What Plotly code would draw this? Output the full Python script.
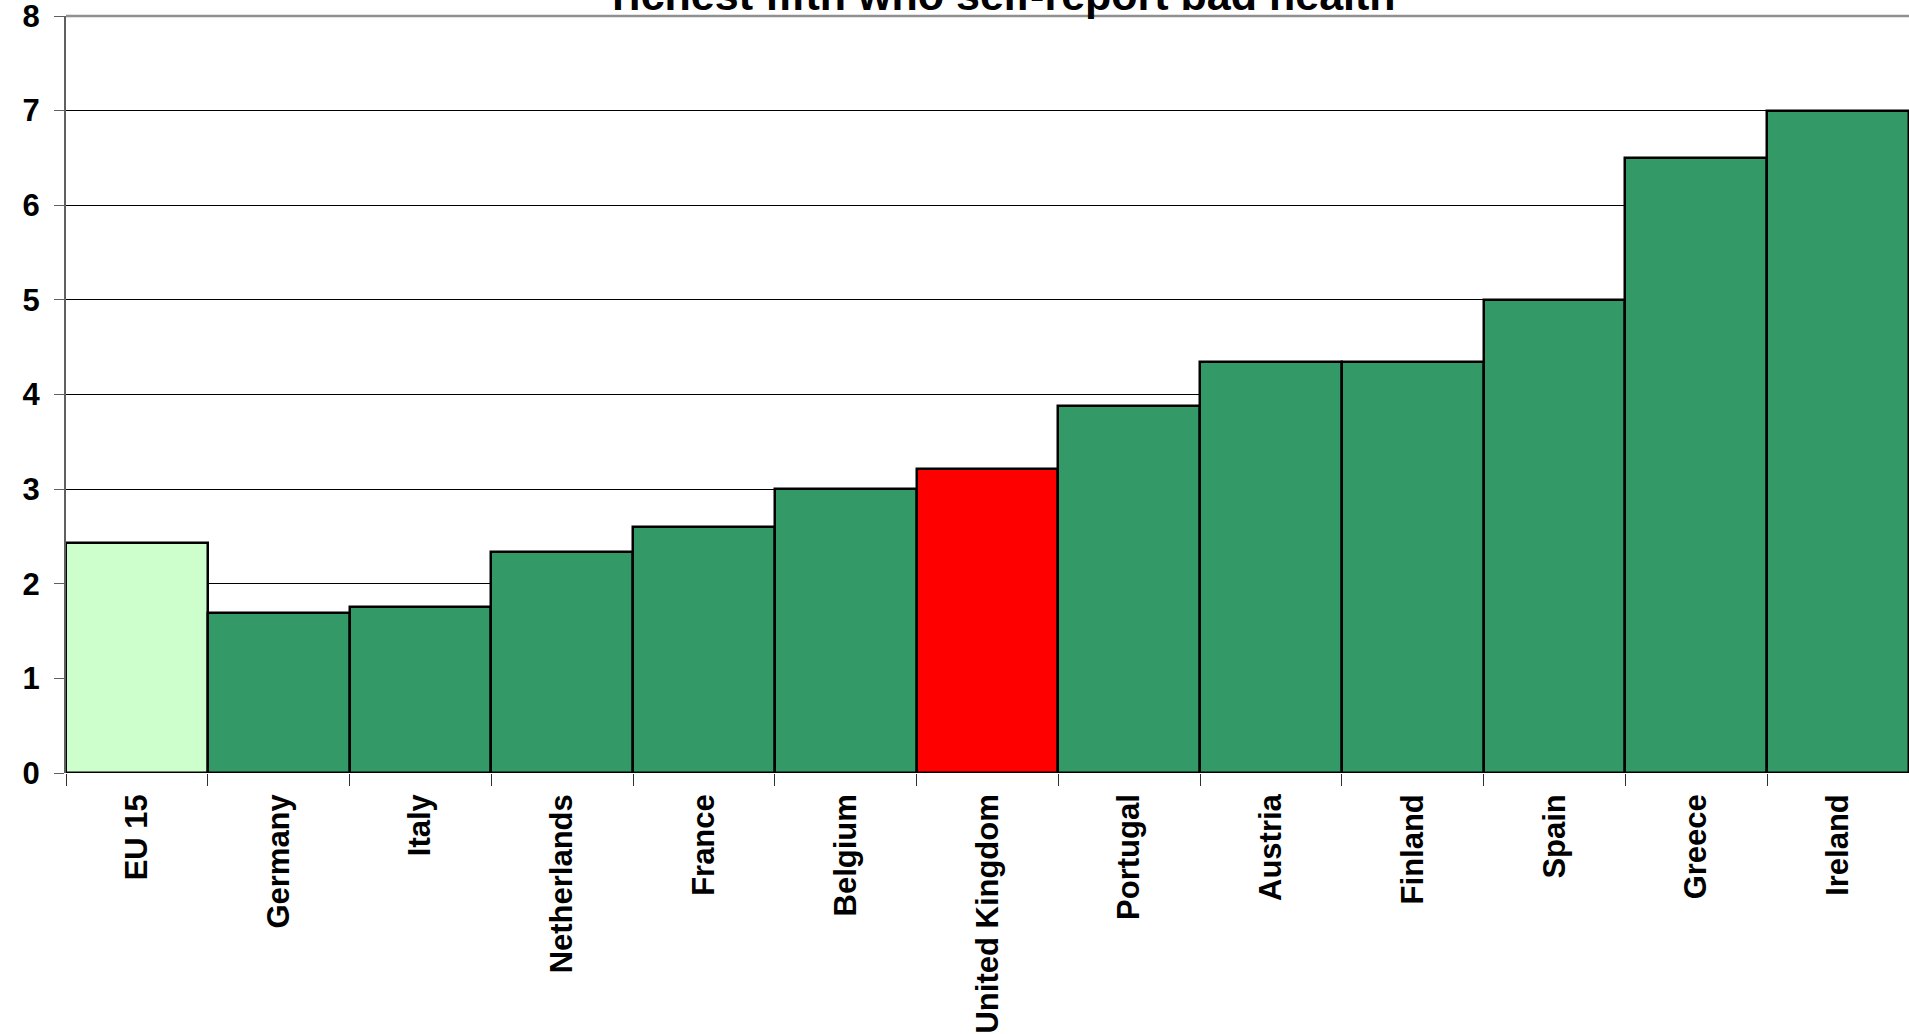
import plotly.graph_objects as go

categories = ["EU 15", "Germany", "Italy", "Netherlands", "France", "Belgium",
              "United Kingdom", "Portugal", "Austria", "Finland", "Spain", "Greece", "Ireland"]
values = [2.43, 1.69, 1.75, 2.34, 2.60, 3.00, 3.21, 3.88, 4.34, 4.34, 5.00, 6.50, 7.00]
bar_colors = ["#CCFFCC", "#339966", "#339966", "#339966", "#339966", "#339966",
              "#FF0000", "#339966", "#339966", "#339966", "#339966", "#339966", "#339966"]
title_text = "richest fifth who self-report bad health"

FONT = "Liberation Sans, Arial, sans-serif"

fig = go.Figure(go.Bar(
    x=categories, y=values,
    marker=dict(color=bar_colors, line=dict(color="#000000", width=2.5)),
    showlegend=False,
))

fig.update_layout(
    width=1909, height=1034,
    margin=dict(l=66, r=0, t=16, b=261, pad=0),
    paper_bgcolor="white", plot_bgcolor="white",
    bargap=0,
    font=dict(family=FONT, color="black"),
    annotations=[dict(
        text="<b>" + title_text + "</b>", xref="paper", yref="paper",
        x=0.509, y=0.994, xanchor="center", yanchor="bottom", showarrow=False,
        font=dict(family=FONT, size=43, color="black"),
    )],
    shapes=[dict(type="line", xref="paper", yref="paper", x0=0, x1=1, y0=1, y1=1,
                 line=dict(color="#909090", width=2.5), layer="above")],
)

fig.update_yaxes(
    range=[0, 8], dtick=1, tick0=0,
    showgrid=True, gridcolor="#000000", gridwidth=1,
    zeroline=False,
    showline=True, linecolor="#606060", linewidth=2,
    ticks="outside", ticklen=10, tickcolor="#606060", tickwidth=1,
    ticklabelstandoff=8, ticklabeloverflow="allow",
    tickfont=dict(family=FONT, size=31, color="black", weight="bold"),
)
fig.update_xaxes(
    type="category", tickson="boundaries",
    showgrid=False, showline=False, zeroline=False,
    ticks="outside", ticklen=12, tickcolor="#303030", tickwidth=1,
    tickangle=-90, ticklabelstandoff=14,
    tickfont=dict(family=FONT, size=31, color="black", weight="bold"),
)

fig.write_html("out.html", config={"displayModeBar": False},
               post_script="document.body.style.margin='0';document.body.style.overflow='hidden';")
